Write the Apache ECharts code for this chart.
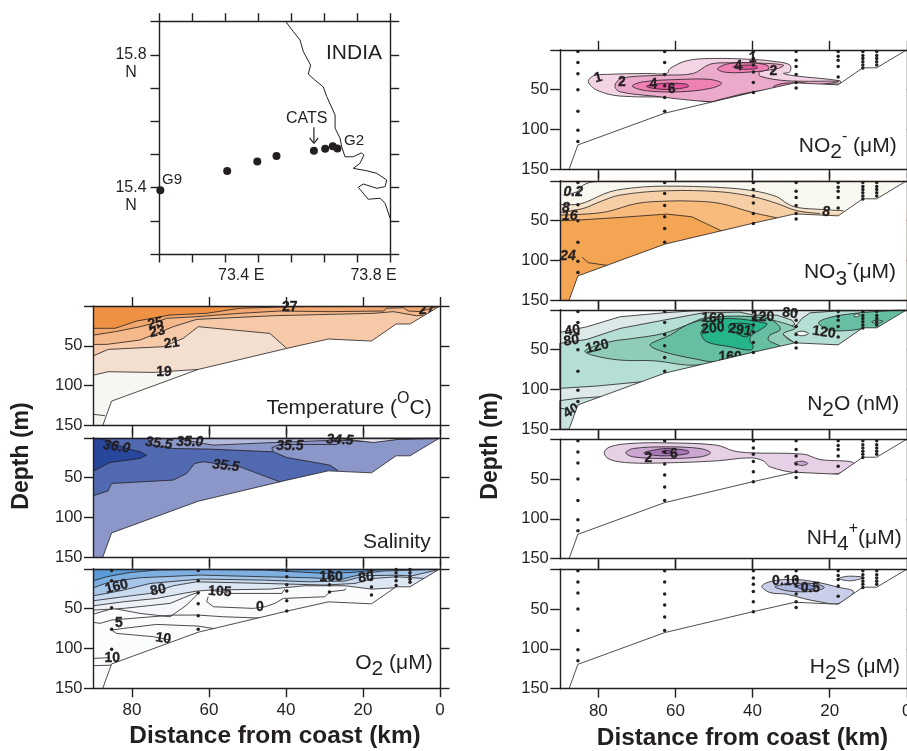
<!DOCTYPE html>
<html><head><meta charset="utf-8">
<style>html,body{margin:0;padding:0;background:#fff}#c{width:907px;height:751px}</style>
<script src="https://cdn.jsdelivr.net/npm/echarts@6/dist/echarts.min.js"></script>
</head><body><div id="c"></div>
<script>
// ---------- DATA: [km from coast, depth m] ----------
const distanceTicks=[0,20,40,60,80];
const depthTicks=[0,50,100,150];
const depthLabels=[50,100,150];
const seafloor=[[87.6,150],[85.3,119.4],[62.8,79.6],[39.8,53.2],[29,41.5],[17.8,44],[11.4,22.6],[7.8,22.6],[0,0]];
const stationKm=[85.3,62.8,39.8,28.7,17.8,11.4,7.8];
const sampleDepths=[[2,16,30,50,77,101,115],[2,16,31,45,60,77],[2,11,19,28,41,53.5],[2,13,21,31,41,48],[2,8,13,21,34],[2,7,11,15,19,23],[2,7,11,15,19]];
const o2SampleDepths=[[2,15,49,76,101],[2,15,30,44,59,76],[2,10,20,28,40,53],[2,10,20,29],[2,13,23,33],[1,5,10,15,21],[1,5,9,13,17]];

// Temperature
const temp17=[[90,136],[87,137.7]];
const temp19=[[90,86.8],[86.2,82.5],[74.5,83.4],[69.3,81.7],[62.8,79.6]];
const temp21=[[90,62.4],[86.2,54.5],[71.9,51.1],[66.7,40.6],[62.8,26],[44.2,34.4],[39.8,53.2]];
const temp23=[[90,48.2],[86.6,48.2],[77.9,42.7],[73.6,34.4],[69.3,26],[63.2,16.8],[43.3,12.2],[17.3,9.2],[12.1,7.1],[6.1,12.2],[4.3,11.3]];
const temp25=[[90,36.5],[84.4,32.3],[77.9,26],[74.5,21.8],[71,15.5],[63.2,13.4],[52,9.2],[41.6,6.3],[28.6,7.1],[14.7,6.3],[13.9,2.9],[9.5,2.1],[8.2,6.3],[5.2,7.1],[1,1]];
const temp27=[[90,28],[84.4,28],[78.8,18.9],[70.1,11.3],[60.6,9.2],[52,2.9],[41.6,1.3],[30,0.2]];
const tempLabels=[[39,1.3,'27',0],[73.9,21.8,'25',-12],[73.4,32.3,'23',-12],[69.7,46.9,'21',-8],[71.7,82.5,'19',0]];
const tempClippedLabels=[[3.5,5,'27',0]];

// Salinity
const sal355Deep=[[90,72.7],[86.2,66.5],[85.3,57.3],[69.3,53.1],[65.8,44.7],[63.7,32.2],[61.5,30.1],[52,36.4],[41.6,55.2]];
const sal355Upper=[[26.4,41.4],[28.6,34.3],[39.8,24.7],[43.3,17.6],[59.8,14.2],[69.3,13.4],[74.5,10],[76.2,0]];
const sal360=[[90,41.8],[85.7,30.9],[77.9,25.9],[76.2,21.7],[77.9,17.6],[81.4,13.4],[87.5,1.7],[90,0]];
const sal350=[[69.3,0],[61.5,7.1],[58.9,9.2],[43.3,5.9],[26.8,2.9],[17.3,5],[10.4,1.7],[0.3,0.8]];
const sal345=[[27.7,0],[17.3,5.9],[10.4,1.7],[0.3,0]];
const salHook=[[43.3,17.6],[43.7,12.5],[41.6,8.4],[26.8,8.4],[26.4,5]];
const salLabels=[[84,11.3,'36.0',8],[73,7.1,'35.5',6],[65,5.9,'35.0',0],[39,10.5,'35.5',0],[26,2.9,'34.5',3],[55.6,35.1,'35.5',6]];

// Oxygen
const o2A=[[90,15],[86.6,10],[80.5,4.6],[73.6,1.6],[62.3,0.8],[45.5,1.6],[29.9,5.8],[22.9,4.6],[15.1,0.8],[0.4,0]];
const o2B=[[90,23.8],[85.7,16.3],[77.9,11.2],[62.3,7.9],[45.5,10],[34.2,11.2],[25.5,13],[19.5,5.8],[15.1,2.9],[0.4,0.4]];
const o2C=[[90,33.8],[86.6,30.9],[82.2,26.7],[75.3,18.4],[62.3,12.9],[45.5,14.2],[34.2,16.3],[24.7,15.4],[19.5,8.7],[11.2,8],[7.4,9],[0.4,1]];
const o2D=[[90,40.1],[82.2,35.1],[75.3,30.9],[69.3,21.3],[63.2,16.3],[45.5,18.4],[29.9,20.4],[22.1,18.4],[17.3,12.1],[11.2,10],[7.4,11.2],[3.9,12.1]];
const o2E=[[90,46.4],[82.2,41.4],[73.6,37.2],[66.7,30.9],[63.2,28],[59.7,26.7],[44.1,25.5],[35.1,21.3],[24.7,21.3],[17.7,25.5],[11.7,23.8]];
const o2F=[[90,51.8],[82.2,49.7],[70.1,43.4],[64.9,33],[62.8,29.6]];
const o2G=[[90,56.8],[84.8,49.7],[77.9,56],[70.1,60.2],[65.8,45.5],[62.8,30.9]];
const o2Zero=[[60.2,35],[60.6,41.3],[58.9,47.6],[48.5,49.7],[45.4,47.6],[42.9,43.4],[40.7,37.2],[29.9,35.1],[28.6,28.8],[24.7,26.7],[24.5,24.6]];
const o2Hook=[[59.7,26.7],[54.5,30.9],[45.5,30.9],[41.1,30.9],[40.3,25.5]];
const o2Five=[[90,67.3],[88.3,68.5],[85.3,64.3],[77.9,61.4],[69.3,58.1],[62.8,58.1],[56.3,60.2],[44.1,62.3]];
const o2Low=[[85.3,76.9],[82.2,74.8],[73.6,69.8],[62.8,71.9],[56.3,76.9]];
const o2Ten=[[85.3,76.9],[84,81.1],[74.5,85.2],[70.1,89.4]];
const o2Deep1=[[90,112.4],[85.8,111.6]];
const o2Deep2=[[90,121.6],[85.3,121]];
const o2Labels=[[84,22.6,'160',-14],[73.2,26.8,'80',-12],[57.2,28.8,'105',4],[28.3,10.9,'160',0],[19.2,10.9,'80',-6],[83.4,68.6,'5',0],[71.9,87.4,'10',8],[85.1,112.4,'10',0],[46.8,48.5,'0',0]];

// Nitrite
const no2Outer=[[82.6,40.1],[81.3,32.6],[77.9,30.9],[67.5,29.7],[62.3,29.7],[61.4,23.4],[57.1,13.8],[51,10.9],[39.8,12.1],[33.7,15],[30.3,19.2],[30.3,27.6],[32,29.7],[28.5,33],[17.3,38.9],[17.3,42.2],[17.7,43.1],[28.5,42.2],[39.8,52.7],[51,65.2],[57.1,59.8],[74.4,58.1],[80.4,50.6]];
const no2Mid=[[75.7,46.4],[74.8,38],[71.8,33.9],[62.3,31.8],[55.4,29.7],[51,18],[45.8,16.3],[39.8,16.3],[32,19.2],[33.3,23.4],[38.1,27.6],[38.1,33],[31.1,38.9],[17.7,40.1],[39.8,52.7],[48.4,62.3],[51,65.2],[65.7,58.1],[74.4,52.7]];
const no2HighA=[[71.2,45.6],[68.3,40.1],[58.8,37.2],[51,37.2],[48,42.2],[51,48.5],[58.8,52.7],[67.5,51.4]];
const no2HighB=[[49.1,24.2],[46.7,18],[41.5,16.3],[36.3,19.2],[35.9,24.7],[39.8,27.6],[46.7,28.4]];
const no2HighC=[[34.6,46.4],[32,42.2],[26,42.2],[31.1,47.7]];
const no2PeakA=[[67.5,45.6],[63.1,42.2],[57.1,43.1],[56.7,46.4],[61.4,49.7],[65.7,48.5]];
const no2PeakB=[[45,21.3],[41.5,19.2],[38.9,20.5],[38.9,23.4],[43.3,24.2]];
const no2Labels=[[80,35,'1',-15],[73.9,40,'2',0],[65.7,43.5,'4',0],[61,49.3,'6',0],[43.7,20,'4',0],[40,11,'1',0],[34.6,26.3,'2',0]];

// Nitrate
const no3Top=[[89.1,18],[85.6,13.8],[83.9,5.4],[81.3,1.3],[74.4,0.4],[13.8,0.4]];
const no302=[[90,29.7],[85.6,29.7],[83,26.3],[77,13.8],[70,8.4],[62.3,6.7],[48.4,8.4],[39.8,12.5],[33.7,20],[31.1,28.4],[28.5,33.4],[22.5,35.9],[16.4,37.6]];
const no38=[[90,39.7],[83.9,34.7],[79.6,26.3],[74.4,18],[62.3,12.5],[48.4,13.8],[39.8,20],[33.7,28.4],[28.5,37.6],[22.5,41]];
const no316=[[90,43],[84.8,42.2],[77.9,38.9],[70,28.4],[62.3,25.5],[55.4,25.5],[48.4,28.4],[39.8,40.1],[33.7,46.4]];
const no320=[[90,50.2],[85.5,49.3],[74.4,46],[62.3,41.8],[55.8,45.1],[47.6,64]];
const no324=[[84.2,96],[82.6,102.8],[76.5,107]];
const no3Labels=[[86.5,14.6,'0.2',0],[88.4,34.7,'8',0],[87.4,43.9,'16',0],[87.9,94,'24',0],[20.9,39.7,'8',0]];

// Nitrous oxide
const n2o40=[[90,28.4],[83,21.3],[74.4,8.8],[63.1,3.8],[55.4,1.3],[43.3,0.4]];
const n2o80=[[90,42.2],[83,37.2],[74.4,23.4],[63.1,13],[52.8,3.8],[43.3,2.9],[39.8,6.7],[33.7,6.7],[29.8,13],[29,18],[32.9,29.7],[32,35.9],[28.5,44.3],[39.8,71],[68.8,90.3],[80.4,95.7],[90,98.6]];
const n2o120=[[83.5,51.4],[77,40.1],[70.9,35.9],[63.1,29.7],[57.1,19.2],[51.9,9.6],[40.7,8.8],[38.1,6.7],[34.6,13],[30.3,19.2],[29,23.4],[32,29.7],[31.1,35.9],[28.5,44.3],[39.8,56],[54.5,69.4],[65.7,64],[74.4,63.1],[81.7,56.8]];
const n2o160=[[66.6,44.3],[64,37.2],[61.4,31.8],[57.1,19.2],[51.5,10.9],[45,7.9],[36.3,10.9],[33.3,19.2],[32.9,25.5],[35.5,31.8],[35.9,38],[32.9,46.4],[39.8,54],[49.3,65.2],[54.5,62],[63.1,52.7]];
const n2o200=[[53.4,29.7],[52.8,23.4],[51.5,15],[45.8,10.9],[36.3,17.1],[36.8,21.3],[40.2,31.8],[40.7,38],[39.8,46.4],[40.7,50.6],[45.8,46.4],[51.9,40.1]];
const n2oTop=[[46.3,21.3],[45,17.1],[39.8,19.2],[40.2,25.5],[41.5,33.9],[44.1,29.7]];
const n2oRightMid=[[32.4,29.7],[29,21.3],[27.2,10.9],[25.1,3.8],[17.7,1.3],[0.4,0.4],[7.6,23.4],[11.5,23.4],[17.7,44.3],[28.5,44.3]];
const n2oRightHigh=[[22.9,16.3],[19.9,9.6],[13.8,4.6],[5.2,1.3],[0.3,0.4],[7.6,23.4],[11.5,23.4],[13.8,25.5],[19.9,25.5]];
const n2oHole=[[29,29.7],[27.2,26.8],[25.5,29.7],[27.2,32.6]];
const n2oLoopA=[[13.8,7.5],[13,5.4],[12.1,6.7],[13,8.8]];
const n2oLoopB=[[9.1,15],[7.8,13],[6.2,14.2],[7.8,17.1]];
const n2oDeep=[[90,114],[85.2,111],[78.7,109]];
const n2oStub=[[90,123.7],[88.2,124.6]];
const n2oLabels=[[86.7,26.3,'40',-8],[87,38.9,'80',-8],[80.3,46.4,'120',-14],[50.3,10.9,'160',4],[50.3,23.4,'200',-6],[43.3,25.5,'291',8],[37.4,9.6,'120',0],[30.3,4.6,'80',8],[21.5,28.4,'120',8]];
const n2oClippedLabels=[[45.8,59.8,'160',0],[87,127,'40',-30]];

// Ammonium
const nh4Outer=[[78.5,17.1],[77,9.6],[71.8,5.4],[62.3,4.6],[49.3,7.5],[45,14.6],[40.7,17.1],[26.8,18.8],[22.5,25.5],[13.8,29.7],[17.7,43],[28.5,42.2],[35.5,34.7],[37.2,27.2],[40.7,23.4],[49.3,27.2],[62.3,29.7],[71.8,29.7],[77,25.5]];
const nh4Mid=[[72.9,17.1],[70.9,11.7],[62.3,9.6],[53.6,11.7],[50.9,17.1],[53.6,22.2],[62.3,24.2],[70.9,22.2]];
const nh4Inner=[[68.2,17.1],[65.7,13.8],[62.3,11.7],[56.7,14.6],[56.7,18],[62.3,20.9],[65.7,20.1]];
const nh4Core=[[63.6,15.9],[62.3,13.8],[61,15.9],[62.3,18]];
const nh4Patch=[[29.2,29.7],[27.2,27.6],[25.7,30.5],[27.2,33]];
const nh4Labels=[[67,24.2,'2',0],[60.4,18.8,'6',0]];

// Hydrogen sulfide
const h2sOuter=[[37.6,21.3],[34.6,14.6],[28.5,13],[22.5,17.1],[18.2,22.2],[13.8,28.4],[17.7,43],[22.5,41],[26.8,36.8],[31.1,31.4],[35.5,29.3]];
const h2sMid=[[34.2,22.2],[31.1,18.8],[24.2,18],[21.4,23],[24.2,27.6],[30.3,27.6]];
const h2sInner=[[28.5,22.2],[26.8,18.8],[25.1,20],[23.4,23],[26,25.5]];
const h2sPatch=[[17.6,11.7],[15.1,8.8],[11.2,10.5],[14.7,14.6]];
const h2sLabels=[[31.4,15,'0.10',0],[25,23.4,'0.5',0]];

// Map: [lon E, lat N]
const coast=[[73.583,15.9],[73.606,15.87],[73.626,15.845],[73.636,15.81],[73.658,15.769],[73.651,15.742],[73.671,15.724],[73.696,15.704],[73.707,15.674],[73.732,15.619],[73.732,15.579],[73.747,15.549],[73.752,15.523],[73.762,15.493],[73.787,15.493],[73.812,15.505],[73.819,15.498],[73.807,15.473],[73.787,15.458],[73.827,15.451],[73.858,15.443],[73.888,15.423],[73.883,15.403],[73.858,15.398],[73.817,15.411],[73.802,15.401],[73.832,15.365],[73.868,15.368],[73.883,15.353],[73.898,15.308]];
const stations=[[73.204,15.392],[73.406,15.45],[73.497,15.479],[73.555,15.495],[73.668,15.511],[73.702,15.517],[73.725,15.525],[73.739,15.518]];
const catsArrow=[[73.668,15.582],[73.668,15.535]];
const catsArrowHead=[[73.655,15.55],[73.668,15.533],[73.681,15.55]];
const lonLabels=[73.4,73.8];
const latLabels=[15.4,15.8];

// ---------- DRAWING ----------
const INK='#231f20', FONT='"Liberation Sans"';
const poly=(points,fill,smooth)=>({kind:'poly',points,fill,stroke:INK,smooth:smooth||0});
const flat=(points,fill)=>({kind:'poly',points,fill,stroke:'none',smooth:0});
const line=(points,smooth)=>({kind:'line',points,smooth:smooth||0});
const aboveR=l=>[...l,[0,l[l.length-1][1]],[0,0],[90,0]];
const aboveL=l=>[...l,[l[l.length-1][0],0],[90,0]];
const band=(l,fill,s)=>[{kind:'poly',points:aboveR(l),fill,stroke:'none',smooth:0},line(l,s)];
const bandL=(l,fill,s)=>[{kind:'poly',points:aboveL(l),fill,stroke:'none',smooth:0},line(l,s)];
const water=fill=>flat([[90,0],[0,0],[0,150],[90,150]],fill);
const txt=(list,italic)=>list.map(t=>({kind:'text',at:[t[0],t[1]],text:t[2],rot:t[3]||0,italic}));
const sampleDots=d=>stationKm.flatMap((km,i)=>d[i].map(m=>[km,m]));
const S=0.35;

const panels=[
 {left:93.5,top:306,width:346.5,layers:[water('#f7f6f2'),line(temp17),...band(temp19,'#f3dfcf'),...band(temp21,'#f6caa8'),...band(temp23,'#f4b88b'),...band(temp25,'#f2a86f'),...bandL(temp27,'#ef9143'),...txt(tempClippedLabels)],labels:tempLabels},
 {left:93.5,top:437.8,width:346.5,layers:[water('#8b96c9'),
   {kind:'poly',points:[...sal355Deep,...sal355Upper,[90,0]],fill:'#5069b0',stroke:'none'},line(sal355Deep),line(sal355Upper),
   poly(sal360,'#27479c'),{kind:'poly',points:[...sal350,[0,0]],fill:'#b3bbdd',stroke:INK},{kind:'poly',points:sal345,fill:'#e4e6f3',stroke:INK},line(salHook)],labels:salLabels,italic:true},
 {left:93.5,top:568.8,width:346.5,bottomLabels:true,layers:[water('#fafbfc'),...bandL(o2G,'#f5f7fa'),...bandL(o2F,'#eef2f8'),...band(o2E,'#dde7f4'),...band(o2D,'#c7daf0'),...band(o2C,'#a5c6e8'),...band(o2B,'#7dafe0'),...band(o2A,'#5a9bd6'),line(o2Zero),line(o2Hook),line(o2Five),line(o2Low),line(o2Ten),line(o2Deep1),line(o2Deep2)],labels:o2Labels,dots:sampleDots(o2SampleDepths)},
 {left:559.8,top:49.8,width:347,layers:[poly(no2Outer,'#f3d4e4',S),poly(no2Mid,'#ebaacb',S),poly(no2HighA,'#ee80b3',S),poly(no2HighB,'#ee80b3',S),poly(no2HighC,'#ee80b3',S),poly(no2PeakA,'#e2559c',S),poly(no2PeakB,'#e2559c',S)],labels:no2Labels,dots:sampleDots(sampleDepths)},
 {left:559.8,top:180.8,width:347,layers:[water('#f3a553'),line(no324),...band(no320,'#f9bb7c'),...band(no316,'#f7cfa6',S),...band(no38,'#f5e3cb',S),...band(no302,'#f8f7f0',S),line(no3Top,S)],labels:no3Labels,italic:true,dots:sampleDots(sampleDepths)},
 {left:559.8,top:309.8,width:347,layers:[water('#dce9e8'),poly([...n2oDeep,[60,150],[90,150]],'#c8e3df'),line(n2oStub),
   {kind:'poly',points:[...n2o40,[43.3,0],[90,0]],fill:'#fff',stroke:'none'},line(n2o40),
   poly(n2o80,'#b5dfd5'),poly(n2oRightMid,'#b5dfd5'),poly(n2o120,'#8fcdb8',S),poly(n2oRightHigh,'#66bfa2',S),poly(n2o160,'#66bfa2',S),poly(n2o200,'#26b48a',S),poly(n2oTop,'#1ba57b',S),poly(n2oHole,'#eef6f3',S),poly(n2oLoopA,'#d5ece5',S),poly(n2oLoopB,'#8fcdb8',S),...txt(n2oClippedLabels)],labels:n2oLabels,dots:sampleDots(sampleDepths)},
 {left:559.8,top:439.2,width:347,layers:[poly(nh4Outer,'#e6d0e6',S),poly(nh4Mid,'#cba6d1',S),poly(nh4Inner,'#a877b8',S),poly(nh4Core,'#8e58a6',S),poly(nh4Patch,'#cba6d1',S)],labels:nh4Labels,dots:sampleDots(sampleDepths)},
 {left:559.8,top:569.2,width:347,bottomLabels:true,layers:[poly(h2sOuter,'#c9cfe8',S),poly(h2sMid,'#aeb8de',S),poly(h2sInner,'#8f9cd0',S),poly(h2sPatch,'#c9cfe8',S)],labels:h2sLabels,dots:sampleDots(sampleDepths)}
];

function el(item,api,italic){
  if(item.kind==='text'){const p=api.coord(item.at);return {type:'text',x:p[0],y:p[1],rotation:-(item.rot||0)*Math.PI/180*-1*-1,style:{text:item.text,align:'center',verticalAlign:'middle',fill:INK,stroke:INK,lineWidth:0.3,font:(item.italic||italic?'italic ':'')+'bold 14px '+FONT}};}
  const pts=item.points.map(p=>api.coord(p));
  if(item.kind==='poly')return {type:'polygon',shape:{points:pts,smooth:item.smooth||0},style:{fill:item.fill,stroke:item.stroke,lineWidth:0.8}};
  return {type:'polyline',shape:{points:pts,smooth:item.smooth||0},style:{fill:'none',stroke:item.stroke||INK,lineWidth:0.8}};
}
const lineStyle={color:INK,width:1.4};
const grids=[],xAxes=[],yAxes=[],series=[];
panels.forEach((p,i)=>{
  grids.push({left:p.left,top:p.top,width:p.width,height:119.5,outerBoundsMode:'none'});
  const xa=(pos,show)=>({type:'value',gridIndex:i,position:pos,min:0,max:90,inverse:true,z:10,splitLine:{show:false},
     axisLine:{show:true,onZero:false,lineStyle},axisTick:{show:true,length:9,lineStyle,customValues:distanceTicks},
     axisLabel:{show:!!show,customValues:distanceTicks,margin:14,color:INK,fontSize:17,fontFamily:'Liberation Sans'}});
  const ya=(pos,show)=>({type:'value',gridIndex:i,position:pos,min:0,max:150,interval:50,inverse:true,z:10,splitLine:{show:false},
     axisLine:{show:true,onZero:false,lineStyle},axisTick:{show:true,length:9.5,lineStyle,customValues:depthTicks},
     axisLabel:{show:!!show,customValues:depthLabels,margin:11,color:INK,fontSize:16.5,fontFamily:'Liberation Sans'}});
  const xi=xAxes.length, yi=yAxes.length;
  xAxes.push(xa('bottom',p.bottomLabels),xa('top',false));
  yAxes.push(ya('left',true),ya('right',false));
  const items=[...p.layers,flat([...seafloor,[0,150]],'#fff'),line(seafloor)];
  series.push({type:'custom',coordinateSystem:'cartesian2d',xAxisIndex:xi,yAxisIndex:yi,clip:true,silent:true,z:2,animation:false,
    data:items.map(()=>[45,75]),encode:{x:0,y:1},renderItem:(params,api)=>el(items[params.dataIndex],api,p.italic)});
  const lab=txt(p.labels,p.italic);
  series.push({type:'custom',coordinateSystem:'cartesian2d',xAxisIndex:xi,yAxisIndex:yi,clip:false,silent:true,z:21,animation:false,
    data:lab.map(()=>[45,75]),encode:{x:0,y:1},renderItem:(params,api)=>el(lab[params.dataIndex],api,p.italic)});
  if(p.dots)series.push({type:'scatter',xAxisIndex:xi,yAxisIndex:yi,data:p.dots,symbolSize:3.5,itemStyle:{color:INK,opacity:1},silent:true,z:20,animation:false});
});
// Map panel
const m=panels.length;
grids.push({left:159,top:21.7,width:231.7,height:232.3,outerBoundsMode:'none'});
const mapAxis=(pos,isX,show)=>({type:'value',gridIndex:m,position:pos,min:isX?73.2:15.2,max:isX?73.9:15.9,interval:0.1,z:10,splitLine:{show:false},
  axisLine:{show:true,onZero:false,lineStyle},axisTick:{show:true,length:8.5,lineStyle},
  axisLabel:{show:!!show,color:INK,fontSize:16,fontFamily:'Liberation Sans',customValues:isX?lonLabels:latLabels,
    formatter:v=>isX?v.toFixed(1)+' E':'\n'+v.toFixed(1)+'\nN',
    margin:isX?13:28,align:'center',lineHeight:18,padding:isX?[0,0,0,32]:0}});
xAxes.push(mapAxis('bottom',true,true),mapAxis('top',true,false));
yAxes.push(mapAxis('left',false,true),mapAxis('right',false,false));
const mx=xAxes.length-2,my=yAxes.length-2;
const mapLine=(data,w)=>({type:'line',xAxisIndex:mx,yAxisIndex:my,data,showSymbol:false,symbol:'none',silent:true,animation:false,clip:false,lineStyle:{color:INK,width:w},z:3});
series.push(mapLine(coast,1),mapLine(catsArrow,1.2),mapLine(catsArrowHead,1.2));
series.push({type:'scatter',xAxisIndex:mx,yAxisIndex:my,data:stations,symbolSize:8,itemStyle:{color:INK,opacity:1},silent:true,z:4,animation:false,clip:false});

const T=(text,x,y,font,extra)=>({type:'text',x,y,silent:true,z:50,rotation:(extra&&extra.rotation)||0,style:Object.assign({text,fill:INK,font,align:'center',verticalAlign:'middle'},extra&&extra.style)});
const rich={t:{fontSize:21,fontFamily:'Liberation Sans',fill:INK,color:INK,verticalAlign:'middle',lineHeight:34},
            sub:{fontSize:21,fontFamily:'Liberation Sans',fill:INK,color:INK,verticalAlign:'bottom',lineHeight:34},
            sup:{fontSize:16,fontFamily:'Liberation Sans',fill:INK,color:INK,verticalAlign:'top',lineHeight:26}};
const R=(text,x,y)=>({type:'text',x,y,silent:true,z:50,style:{text,rich,align:'right',verticalAlign:'middle'}});
const graphics=[
 T('INDIA',354,53,'21px '+FONT),T('CATS',306.7,119,'16px '+FONT),T('G2',354,141,'15px '+FONT),T('G9',172,180,'15px '+FONT),
 T('Depth (m)',22,456,'bold 23px '+FONT,{rotation:Math.PI/2}),T('Depth (m)',491,446,'bold 23px '+FONT,{rotation:Math.PI/2}),
 T('Distance from coast (km)',275,736.7,'bold 24.4px '+FONT),T('Distance from coast (km)',742.5,738,'bold 24.4px '+FONT),
 R('{t|Temperature (}{sup|O}{t|C)}',431.7,408),
 R('{t|Salinity}',430.7,542),
 R('{t|O}{sub|2}{t| (μM)}',432.7,663),
 R('{t|NO}{sub|2}{sup|-}{t| (μM)}',896.7,146),
 R('{t|NO}{sub|3}{sup|-}{t|(μM)}',896,272.7),
 R('{t|N}{sub|2}{t|O (nM)}',899.3,404),
 R('{t|NH}{sub|4}{sup|+}{t|(μM)}',901.7,538),
 R('{t|H}{sub|2}{t|S (μM)}',900,667)
];
const chart=echarts.init(document.getElementById('c'),null,{renderer:'canvas'});
chart.setOption({animation:false,backgroundColor:'#fff',grid:grids,xAxis:xAxes,yAxis:yAxes,series,graphic:{elements:graphics}});
</script></body></html>
